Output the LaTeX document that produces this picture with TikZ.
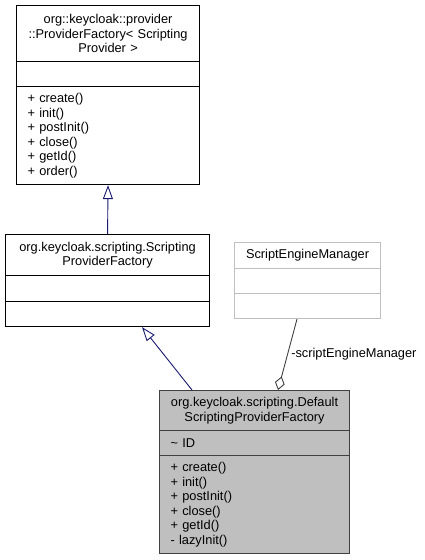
\documentclass[tikz,border=0pt]{standalone}
\usepackage{fontspec}
\setmainfont{Liberation Sans}
\usetikzlibrary{arrows.meta}

\definecolor{edgeblue}{HTML}{191970}
\definecolor{edgegray}{HTML}{404040}
\definecolor{boxgray}{HTML}{BFBFBF}

\tikzset{
  part/.style={draw, line width=1.1pt, anchor=north west, inner ysep=0pt,
    font=\fontsize{12.8}{14.5}\selectfont},
  head/.style={part, align=center, inner xsep=4pt},
  body/.style={part, align=left, inner xsep=11pt},
  inherit/.style={draw=edgeblue, line width=0.9pt,
    -{Triangle[open, length=14pt, width=10pt]}},
  aggr/.style={draw=edgegray, line width=0.9pt,
    -{Diamond[open, length=14pt, width=10pt]}}
}

\begin{document}
\begin{tikzpicture}[x=1pt,y=-1pt]
          \useasboundingbox (0,0) rectangle (425,560);

          % ProviderFactory
          \node[head, text width=175pt, minimum height=56pt] (pfHead) at (16,5)
            {org::keycloak::provider\\::ProviderFactory< Scripting\\Provider >};
          \node[body, text width=161pt, minimum height=25pt] (pfAttr) at (16,61) {};
          \node[body, text width=161pt, minimum height=98pt] (pfOps) at (16,86)
            {+ create()\\+ init()\\+ postInit()\\+ close()\\+ getId()\\+ order()};

          % ScriptingProviderFactory
          \node[head, text width=196pt, minimum height=41pt] (spfHead) at (5,234)
            {org.keycloak.scripting.Scripting\\ProviderFactory};
          \node[body, text width=182pt, minimum height=26pt] (spfAttr) at (5,275) {};
          \node[body, text width=182pt, minimum height=25pt] (spfOps) at (5,301) {};

          % ScriptEngineManager
          \node[head, draw=boxgray, text width=138pt, minimum height=26pt] (semHead) at (234,242)
            {ScriptEngineManager};
          \node[body, draw=boxgray, text width=124pt, minimum height=25pt] (semAttr) at (234,268) {};
          \node[body, draw=boxgray, text width=124pt, minimum height=25pt] (semOps) at (234,293) {};

          % DefaultScriptingProviderFactory
          \node[head, draw=edgegray, fill=boxgray, text width=182pt, minimum height=40pt] (dspfHead) at (159,390)
            {org.keycloak.scripting.Default\\ScriptingProviderFactory};
          \node[body, draw=edgegray, fill=boxgray, text width=168pt, minimum height=25pt] (dspfAttr) at (159,430)
            {\textasciitilde\ ID};
          \node[body, draw=edgegray, fill=boxgray, text width=168pt, minimum height=98pt] (dspfOps) at (159,455)
            {+ create()\\+ init()\\+ postInit()\\+ close()\\+ getId()\\- lazyInit()};

          \draw[inherit] (spfHead.north) -- (pfOps.south);
          \draw[inherit] ([xshift=33pt]dspfHead.north west) -- ([xshift=137pt]spfOps.south west);
          \draw[aggr] ([xshift=63pt]semOps.south west) --
            node[right, pos=0.5] {\fontsize{12.8}{14.5}\selectfont -scriptEngineManager}
            ([xshift=119pt]dspfHead.north west);
        \end{tikzpicture}
\end{document}
